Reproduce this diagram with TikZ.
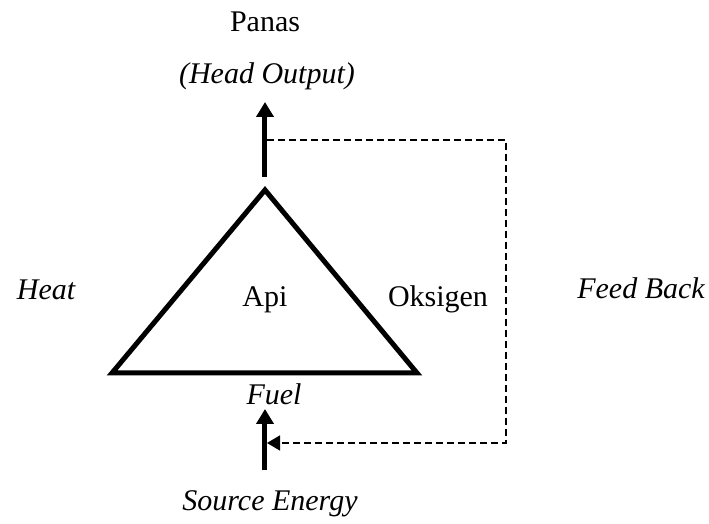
\documentclass[tikz,border=0pt]{standalone}
\usepackage{fontspec}
\setmainfont{Liberation Serif}
\usetikzlibrary{arrows.meta}

\begin{document}
\begin{tikzpicture}[%
    x=0.4pt,
    y=-0.4pt,
    >={Triangle[width=6.8pt,length=6pt]},
    txt/.style={%
      font=\fontsize{12}{14}\selectfont,
      inner sep=0pt,
      anchor=base
    },
    flow/.style={->, line width=2pt},
    feedback/.style={%
      -{Triangle[width=6pt,length=5.2pt]},
      line width=0.6pt,
      dash pattern=on 2.8pt off 1.6pt
    }
  ]
    \useasboundingbox (0,0) rectangle (709,524);

    % labels
    \node[txt] (panas)  at (265,32)  {Panas};
    \node[txt] (output) at (267,84)  {\itshape (Head Output)};
    \node[txt] (heat)   at (46,300)  {\itshape Heat};
    \node[txt] (api)    at (265,307) {Api};
    \node[txt] (oks)    at (438,307) {Oksigen};
    \node[txt] (fb)     at (641,299) {\itshape Feed Back};
    \node[txt] (fuel)   at (274,405) {\itshape Fuel};
    \node[txt] (source) at (270,511) {\itshape Source Energy};

    % triangle
    \coordinate (top)   at (265,190);
    \coordinate (left)  at (112,373);
    \coordinate (right) at (417,373);
    \draw[line width=2pt, line join=miter] (top) -- (left) -- (right) -- cycle;

    % heat output and fuel input
    \coordinate (outbot) at (265,177);
    \coordinate (outtip) at (265,102);
    \coordinate (inbot)  at (265,470);
    \coordinate (intip)  at (265,409);
    \draw[flow] (outbot) -- (outtip);
    \draw[flow] (inbot) -- (intip);

    % feed back loop
    \coordinate (fbstart) at (267,140);
    \coordinate (fbend)   at (267,443);
    \draw[feedback] (fbstart) -- (506,140) -- (506,443) -- (fbend);
  \end{tikzpicture}
\end{document}
